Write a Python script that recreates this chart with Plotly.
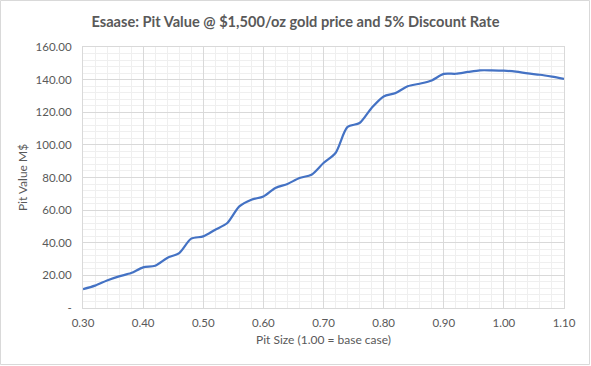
import plotly.graph_objects as go

pit_size = [0.30, 0.32, 0.34, 0.36, 0.38, 0.40, 0.42, 0.44, 0.46, 0.48, 0.50,
            0.52, 0.54, 0.56, 0.58, 0.60, 0.62, 0.64, 0.66, 0.68, 0.70,
            0.72, 0.74, 0.76, 0.78, 0.80, 0.82, 0.84, 0.86, 0.88, 0.90,
            0.92, 0.94, 0.96, 0.98, 1.00, 1.02, 1.04, 1.06, 1.08, 1.10]
pit_value = [11.6, 13.7, 16.9, 19.4, 21.4, 24.9, 25.9, 30.7, 33.7, 42.5, 43.9,
             48.0, 52.1, 62.3, 66.4, 68.4, 73.6, 76.0, 79.7, 81.7, 88.9,
             95.0, 111.0, 113.4, 122.6, 129.7, 131.8, 135.9, 137.5, 139.5, 143.5,
             143.6, 144.7, 145.7, 145.7, 145.5, 144.9, 143.8, 143.0, 141.8, 140.4]

x_ticks = [0.3, 0.4, 0.5, 0.6, 0.7, 0.8, 0.9, 1.0, 1.1]
x_tick_labels = ["0.30", "0.40", "0.50", "0.60", "0.70", "0.80", "0.90", "1.00", "1.10"]
y_ticks = [0, 20, 40, 60, 80, 100, 120, 140, 160]
y_tick_labels = ["-", "20.00", "40.00", "60.00", "80.00", "100.00", "120.00", "140.00", "160.00"]

W, H = 591, 366
L, R, T, B = 83, 27, 47, 58
pw, ph = W - L - R, H - T - B

fig = go.Figure()
fig.add_trace(go.Scatter(
    x=pit_size, y=pit_value, mode="lines",
    line=dict(color="#4472C4", width=2.2, shape="spline", smoothing=0.8),
    showlegend=False, hoverinfo="x+y"))

font_color = "#595959"
fam = "Lato, Noto Sans, sans-serif"
fig.update_layout(
    width=W, height=H,
    margin=dict(l=L, r=R, t=T, b=B),
    paper_bgcolor="white", plot_bgcolor="white",
    font=dict(family=fam, color=font_color, size=11),
    title=dict(text="Esaase: Pit Value @ $1,500/oz gold price and 5% Discount Rate",
               x=0.5, xanchor="center", y=1 - 22 / H, yanchor="middle",
               font=dict(size=14.6, color=font_color, family=fam, weight="bold")),
    xaxis=dict(range=[0.3, 1.1], tickvals=x_ticks, ticktext=x_tick_labels,
               showgrid=True, gridcolor="#d9d9d9", gridwidth=1,
               minor=dict(dtick=0.02, showgrid=True, gridcolor="#efefef", gridwidth=1),
               showline=True, linecolor="#d9d9d9", mirror=True, zeroline=False,
               ticks="", ticklabelstandoff=4, tickfont=dict(size=11.5, color=font_color),
               title=dict(text="Pit Size (1.00 = base case)", standoff=7,
                          font=dict(size=12, color=font_color))),
    yaxis=dict(range=[0, 160], tickvals=y_ticks, ticktext=y_tick_labels,
               showgrid=True, gridcolor="#d9d9d9", gridwidth=1,
               minor=dict(dtick=4, showgrid=True, gridcolor="#efefef", gridwidth=1),
               showline=True, linecolor="#d9d9d9", mirror=True, zeroline=False,
               ticks="", ticklabelstandoff=8, tickfont=dict(size=11.5, color=font_color),
               title=dict(text="Pit Value M$", standoff=5,
                          font=dict(size=12, color=font_color))),
)

# outer chart border
fig.add_shape(type="rect", xref="paper", yref="paper",
              x0=(0.5 - L) / pw, x1=(W - 1.5 - L) / pw,
              y0=(ph - (H - 1.5 - T)) / ph, y1=(ph + T - 0.5) / ph,
              line=dict(color="#d9d9d9", width=1), fillcolor="rgba(0,0,0,0)", layer="below")

fig.write_html("out.html", config={"displayModeBar": False},
               post_script="document.body.style.margin='0';")
